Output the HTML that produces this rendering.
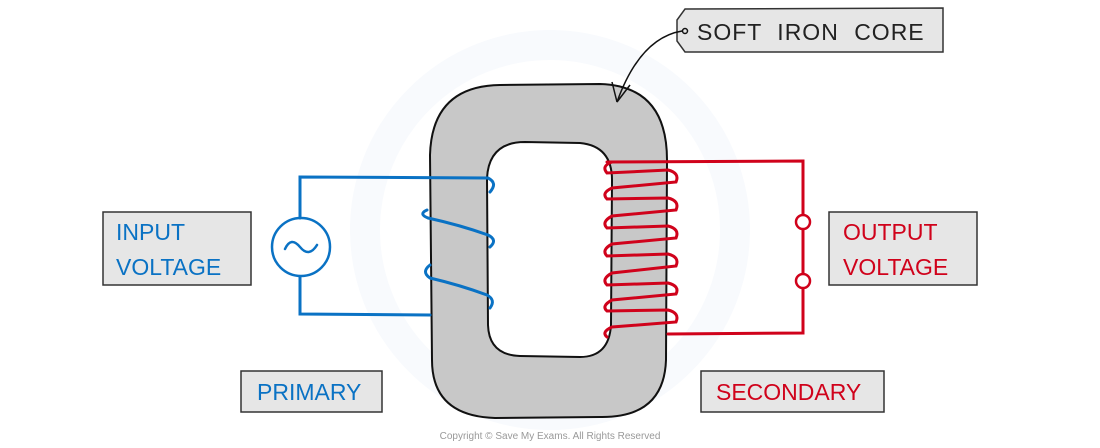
<!DOCTYPE html>
<html><head><meta charset="utf-8"><style>
html,body{margin:0;padding:0;background:#fff;}
svg{display:block;}
text{font-family:"Liberation Sans",sans-serif;}
</style></head><body>
<svg width="1100" height="448" viewBox="0 0 1100 448" xmlns="http://www.w3.org/2000/svg">
<!-- watermark -->
<circle cx="550" cy="230" r="185" fill="none" stroke="#f8fafd" stroke-width="30"/>
<!-- core -->
<path fill-rule="evenodd" fill="#c8c8c8" stroke="#111" stroke-width="2"
 d="M500 85 L600 84 Q667 86 667 160 L666 360 Q664 418 600 417 L495 418 Q432 416 432 360 L430 155 Q432 86 500 85 Z
    M525 142 L580 143 Q612 146 612 180 L611 325 Q609 357 580 357 L520 356 Q489 355 488 325 L487 178 Q489 142 525 142 Z"/>
<!-- primary blue -->
<g fill="none" stroke="#0a72c4" stroke-width="3" stroke-linecap="round">
<path d="M300 218 L300 177 L488 178 Q498 183 490 192"/>
<path d="M427 210 Q418 214 428 218 Q460 225 488 235 Q498 240 490 247"/>
<path d="M430 265 Q421 272 430 278 Q460 285 487 295 Q496 300 490 308"/>
<path d="M300 277 L300 314 L430 315"/>
<circle cx="301" cy="247" r="29" stroke-width="2.5"/>
<path d="M285 249 Q291 236 300 247 Q309 258 317 245" stroke-width="2.5"/>
</g>
<!-- secondary red -->
<g fill="none" stroke="#d0021b" stroke-width="3" stroke-linecap="round">
<path d="M607 162 L803 161 L803 214"/>
<path d="M803 230 L803 273"/>
<path d="M803 289 L803 333 L668 334"/>
<path d="M612 162 Q601 166 607 173 L668 170 Q680 173 676 182 L612 188 Q601 193 607 199 L668 198 Q680 201 676 210 L612 216 Q601 222 607 228 L668 226 Q680 229 676 238 L612 244 Q601 250 607 256 L668 254 Q680 257 676 266 L612 273 Q601 279 607 285 L668 283 Q680 286 676 294 L612 300 Q601 306 607 311 L668 310 Q680 313 676 322 L612 327 Q601 332 607 337"/>
<circle cx="803" cy="222" r="7" fill="#fff" stroke-width="2.5"/>
<circle cx="803" cy="281" r="7" fill="#fff" stroke-width="2.5"/>
</g>
<!-- labels -->
<g stroke="#333" stroke-width="1.5" fill="#e6e6e6">
<rect x="103" y="212" width="148" height="73"/>
<rect x="829" y="212" width="148" height="73"/>
<rect x="241" y="371" width="141" height="41"/>
<rect x="701" y="371" width="183" height="41"/>
<path d="M685 9 L943 8 L943 52 L685 52 L677 41 L677 20 Z"/>
</g>
<g font-size="23" fill="#0a72c4">
<text x="116" y="240">INPUT</text>
<text x="116" y="275">VOLTAGE</text>
<text x="257" y="400">PRIMARY</text>
</g>
<g font-size="23" fill="#d0021b">
<text x="843" y="240">OUTPUT</text>
<text x="843" y="275">VOLTAGE</text>
<text x="716" y="400">SECONDARY</text>
</g>
<text x="697" y="40" font-size="23" fill="#222" letter-spacing="1" word-spacing="8">SOFT IRON CORE</text>
<!-- arrow -->
<g fill="none" stroke="#111" stroke-width="1.5">
<circle cx="685" cy="31" r="2.5"/>
<path d="M682 31 Q640 38 617 102"/>
<path d="M617 102 L612 82 M617 102 L630 85"/>
</g>
<text x="550" y="439" font-size="10" fill="#999" text-anchor="middle">Copyright © Save My Exams. All Rights Reserved</text>
</svg>
</body></html>
